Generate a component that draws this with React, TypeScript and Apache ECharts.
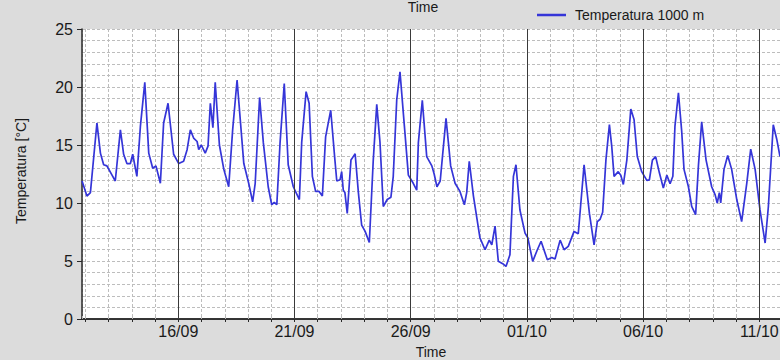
import React, { useEffect, useRef } from "react";
import * as echarts from "echarts";

// Time base: 12/09 00:00 (day offset 0)
const START = new Date(2023, 8, 12, 0, 0, 0).getTime();
const DAY = 86400000;

const seriesName = "Temperatura 1000 m";
const titleText = "Time";
const xAxisName = "Time";
const yAxisName = "Temperatura [°C]";

const xTickLabels = ["16/09", "21/09", "26/09", "01/10", "06/10", "11/10"];
const yTickValues = [0, 5, 10, 15, 20, 25];
const xRangeDays = [-0.142, 29.89];

// Day offsets from 12/09 00:00 and temperatures
const dayOffsets = [
  -0.14, 0.07, 0.22, 0.5, 0.65, 0.79, 0.93, 1.15, 1.29, 1.51, 1.65, 1.79, 1.94, 2.04, 2.22, 2.37,
  2.56, 2.73, 2.9, 3.04, 3.23, 3.37, 3.56, 3.8, 4.02, 4.23, 4.38, 4.52, 4.66, 4.81, 4.88, 4.99,
  5.16, 5.28, 5.38, 5.49, 5.59, 5.77, 5.96, 6.17, 6.34, 6.53, 6.82, 7.03, 7.2, 7.31, 7.5, 7.66,
  7.87, 8.02, 8.13, 8.24, 8.38, 8.56, 8.73, 8.95, 9.21, 9.31, 9.5, 9.63, 9.77, 9.91, 10.06, 10.2,
  10.34, 10.56, 10.74, 10.82, 10.96, 11.03, 11.1, 11.17, 11.27, 11.43, 11.53, 11.61, 11.75, 11.89,
  12.04, 12.22, 12.39, 12.54, 12.68, 12.82, 12.99, 13.15, 13.25, 13.4, 13.54, 13.73, 13.9, 14.11,
  14.26, 14.33, 14.5, 14.69, 14.91, 15.01, 15.13, 15.27, 15.52, 15.72, 15.91, 16.12, 16.31, 16.41,
  16.52, 16.7, 16.98, 17.2, 17.38, 17.49, 17.63, 17.77, 17.96, 18.1, 18.27, 18.42, 18.53, 18.7,
  18.92, 19.04, 19.25, 19.45, 19.61, 19.88, 20.07, 20.21, 20.43, 20.6, 20.78, 21.03, 21.21, 21.46,
  21.69, 21.89, 22.03, 22.15, 22.26, 22.4, 22.55, 22.65, 22.75, 22.93, 23.04, 23.15, 23.3, 23.47,
  23.61, 23.75, 23.94, 24.16, 24.27, 24.4, 24.54, 24.7, 24.87, 25.02, 25.16, 25.28, 25.37, 25.52,
  25.66, 25.76, 25.95, 26.09, 26.26, 26.38, 26.52, 26.71, 26.95, 27.1, 27.19, 27.28, 27.34, 27.48,
  27.64, 27.81, 28.03, 28.24, 28.46, 28.63, 28.82, 29.03, 29.25, 29.39, 29.6, 29.75, 29.89,
];

const temperatures = [
  11.9, 10.6, 10.9, 16.9, 14.3, 13.3, 13.2, 12.4, 11.9, 16.3, 14.2, 13.4, 13.4, 14.2, 12.3, 16.6,
  20.4, 14.3, 13.0, 13.2, 11.7, 16.9, 18.6, 14.2, 13.4, 13.6, 14.6, 16.3, 15.6, 15.3, 14.6, 15.0,
  14.3, 14.9, 18.6, 16.5, 20.4, 15.0, 12.9, 11.4, 16.3, 20.6, 13.4, 11.7, 10.1, 11.7, 19.1, 15.2,
  11.4, 9.85, 10.05, 9.85, 15.2, 20.3, 13.3, 11.4, 10.3, 15.2, 19.6, 18.6, 12.3, 11.0, 11.0, 10.6,
  15.7, 18.0, 13.7, 11.9, 12.0, 12.7, 11.1, 10.9, 9.1, 13.7, 14.0, 14.25, 10.9, 8.1,
  7.55, 6.6, 13.7, 18.5, 15.2, 9.7, 10.3, 10.5, 12.3, 18.9, 21.3, 16.6, 12.4, 11.7,
  11.1, 15.2, 18.85, 14.0, 13.2, 12.5, 11.4, 11.9, 17.3, 13.2, 11.7, 11.0, 9.85, 10.9,
  13.6, 10.6, 7.0, 5.97, 6.8, 6.4, 8.0, 4.97, 4.77, 4.53, 5.54, 12.3, 13.3, 9.4,
  7.4, 7.0, 4.97, 5.97, 6.7, 5.1, 5.3, 5.17, 6.8, 5.97, 6.26, 7.55, 7.35, 13.3,
  9.1, 6.4, 8.4, 8.6, 9.2, 13.7, 16.75, 14.9, 12.3, 12.7, 12.4, 11.6, 13.7, 18.1,
  17.2, 14.0, 12.7, 11.95, 12.0, 13.7, 14.0, 12.6, 11.3, 12.4, 11.66, 12.3, 16.6, 19.5,
  16.2, 12.9, 11.4, 9.7, 9.0, 13.2, 17.0, 13.7, 11.4, 10.7, 10.0, 10.9, 10.0, 12.9,
  14.1, 12.9, 10.3, 8.4, 11.7, 14.65, 12.9, 9.4, 6.55, 9.7, 16.75, 15.5, 14.0,
];

const FONT = "'Liberation Sans', Arial, sans-serif";
const pad2 = (n: number) => (n < 10 ? "0" + n : "" + n);
const fmtDay = (ts: number) => {
  const d = new Date(ts);
  return pad2(d.getDate()) + "/" + pad2(d.getMonth() + 1);
};
const labelToTs = (s: string) => {
  const [dd, mm] = s.split("/").map(Number);
  return new Date(2023, mm - 1, dd, 0, 0, 0).getTime();
};

export default function App() {
  const ref = useRef<HTMLDivElement>(null);

  useEffect(() => {
    if (!ref.current) return;
    const chart = echarts.init(ref.current, undefined, { renderer: "svg" });
    const xMin = START + xRangeDays[0] * DAY;
    const xMax = START + xRangeDays[1] * DAY;
    const seriesData = dayOffsets.map((d, i) => [START + d * DAY, temperatures[i]]);

    const baseX = {
      type: "time" as const,
      min: xMin,
      max: xMax,
      minInterval: DAY,
      maxInterval: DAY,
    };

    chart.setOption({
      animation: false,
      backgroundColor: "#dcdcdc",
      textStyle: { fontFamily: FONT },
      title: {
        text: titleText,
        left: 423,
        top: 0,
        padding: 0,
        textAlign: "center",
        textStyle: { fontSize: 14, fontWeight: "normal", color: "#1a1a1a", fontFamily: FONT },
      },
      legend: {
        data: [seriesName],
        left: 537,
        top: 7,
        padding: 0,
        icon: "rect",
        itemWidth: 29,
        itemHeight: 2.5,
        itemStyle: { color: "#3535d8" },
        textStyle: {
          fontSize: 14,
          color: "#1a1a1a",
          fontFamily: FONT,
          lineHeight: 16,
          padding: [0, 0, 0, 4],
        },
      },
      grid: {
        left: 82,
        right: 0,
        top: 29,
        bottom: 41,
        containLabel: false,
        outerBoundsMode: "none",
        show: true,
        backgroundColor: "#ffffff",
        borderWidth: 0,
      },
      xAxis: [
        {
          ...baseX,
          position: "bottom",
          name: xAxisName,
          nameLocation: "middle",
          nameGap: 26,
          nameTextStyle: { fontSize: 14, color: "#1a1a1a", fontFamily: FONT },
          axisLine: { show: true, lineStyle: { color: "#2a2a2a", width: 1.5 } },
          axisTick: { show: true, length: 3, lineStyle: { color: "#2a2a2a" } },
          axisLabel: {
            show: true,
            margin: 4,
            fontSize: 16,
            color: "#1a1a1a",
            fontFamily: FONT,
            hideOverlap: false,
            formatter: (v: number) => {
              const d = new Date(v);
              const s = fmtDay(v);
              return d.getHours() === 0 && d.getMinutes() === 0 && xTickLabels.includes(s) ? s : "";
            },
          },
          splitLine: {
            show: true,
            lineStyle: { color: "#bdbdbd", type: [3, 2], width: 1 },
          },
        },
        {
          ...baseX,
          position: "top",
          axisLine: { show: true, lineStyle: { color: "#2a2a2a", width: 1.5 } },
          axisTick: { show: true, length: 3, lineStyle: { color: "#b8b8b8" } },
          axisLabel: { show: false },
          splitLine: { show: false },
        },
      ],
      yAxis: [
        {
          type: "value",
          min: 0,
          max: 25,
          interval: 1,
          axisLine: { show: false },
          axisTick: { show: false },
          axisLabel: { show: false },
          splitLine: { show: true, lineStyle: { color: "#bdbdbd", type: [3, 2], width: 1 } },
        },
        {
          type: "value",
          position: "left",
          min: yTickValues[0],
          max: yTickValues[yTickValues.length - 1],
          interval: 5,
          name: yAxisName,
          nameLocation: "middle",
          nameGap: 54,
          nameRotate: 90,
          nameTextStyle: {
            fontSize: 14,
            color: "#1a1a1a",
            fontFamily: FONT,
            padding: [0, 0, 0, 6],
          },
          axisLine: { show: true, lineStyle: { color: "#2a2a2a", width: 1.5 } },
          axisTick: { show: true, length: 5, lineStyle: { color: "#2a2a2a" } },
          axisLabel: { show: true, margin: 9, fontSize: 16, color: "#1a1a1a", fontFamily: FONT },
          splitLine: { show: false },
        },
      ],
      series: [
        {
          name: "__majors",
          type: "line",
          xAxisIndex: 0,
          yAxisIndex: 0,
          data: [],
          silent: true,
          z: 1,
          markLine: {
            silent: true,
            symbol: ["none", "none"],
            label: { show: false },
            emphasis: { disabled: true },
            lineStyle: { color: "#3a3a3a", type: "solid", width: 1 },
            data: xTickLabels.map((s) => ({ xAxis: labelToTs(s) })),
          },
        },
        {
          name: seriesName,
          type: "line",
          xAxisIndex: 0,
          yAxisIndex: 0,
          data: seriesData,
          showSymbol: false,
          symbol: "none",
          z: 3,
          lineStyle: { color: "#3535d8", width: 1.7 },
          itemStyle: { color: "#3535d8" },
        },
      ],
    });
    return () => chart.dispose();
  }, []);

  return (
    <div
      ref={ref}
      style={{ position: "fixed", left: 0, top: 0, width: 780, height: 360 }}
    />
  );
}
